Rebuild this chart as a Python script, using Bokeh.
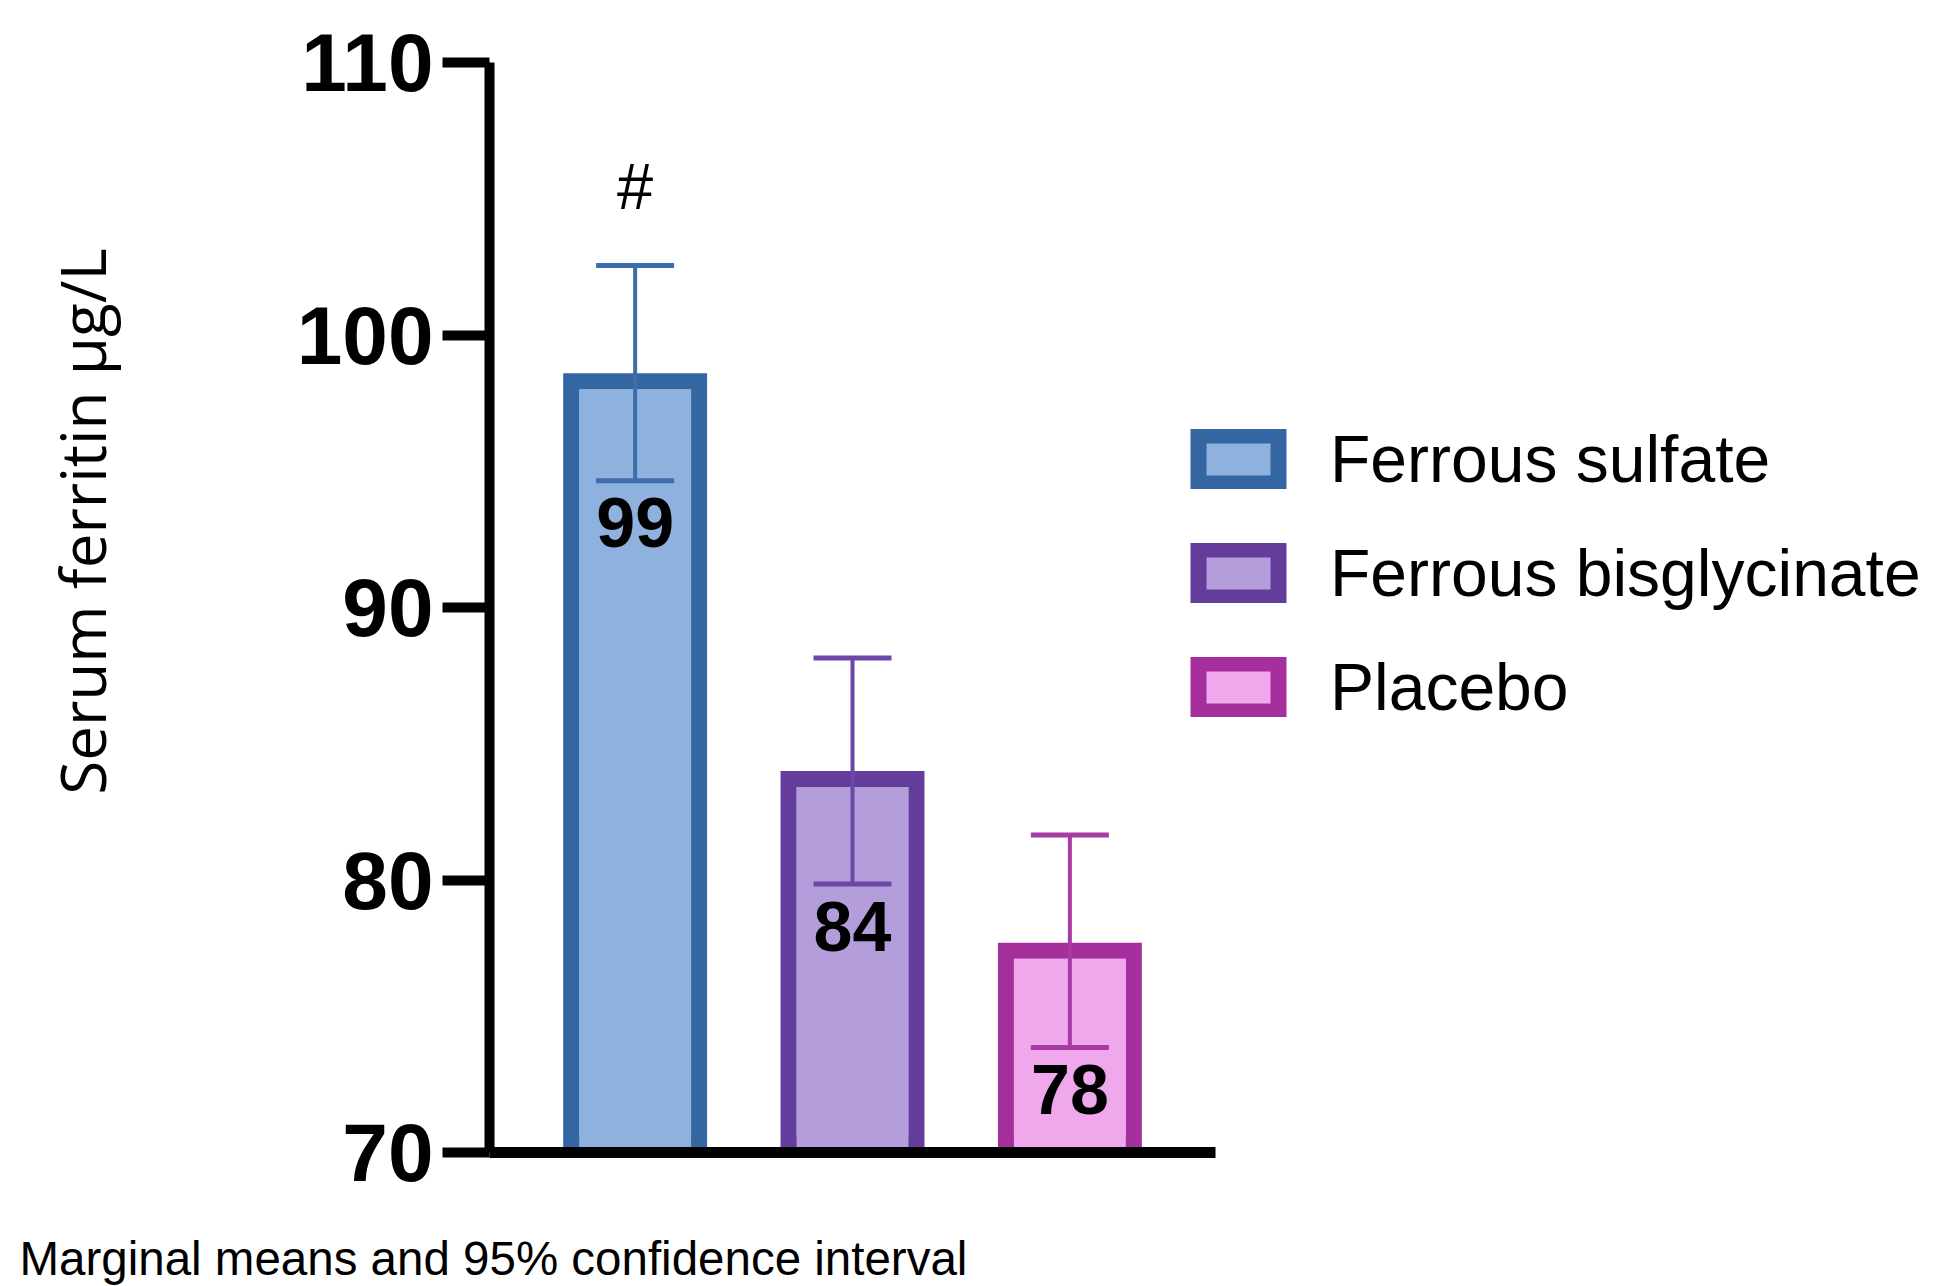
import math
from bokeh.plotting import figure
from bokeh.models import (Range1d, FixedTicker, Legend, LegendItem, ColumnDataSource,
                          Whisker, TeeHead, Label)
from bokeh.core.properties import value
from bokeh.embed import file_html
from bokeh.resources import INLINE

# ---------------- data ----------------
groups = ["Ferrous sulfate", "Ferrous bisglycinate", "Placebo"]
positions = [1, 2, 3]
means = [98.6, 84.0, 77.7]
ci_low = [94.65, 79.85, 73.85]
ci_high = [102.55, 88.15, 81.65]
value_labels = ["99", "84", "78"]
sig_marks = ["#", "", ""]
y_ticks = [70, 80, 90, 100, 110]
y_label = "Serum ferritin µg/L"
footnote = "Marginal means and 95% confidence interval"

fill_colors = ["#8FB1DD", "#B39EDB", "#EFA8EC"]
line_colors = ["#3467A1", "#643D9C", "#A5309D"]
err_colors = ["#3E6DAB", "#6C47A6", "#A83AA3"]

# ---------------- layout (pixels on the canvas) ----------------
W, H = 1935, 1286
AX_X, AX_TOP, AX_BOT = 489, 62, 1152      # y axis position, 110 and 70 levels
x0, x_axis_end = 0.33, 3.67               # category axis extent
y0, y1 = y_ticks[0], y_ticks[-1]
px_x = 217.37                              # pixels per category step
px_y = (AX_BOT - AX_TOP) / (y1 - y0)
xs = x0 - AX_X / px_x
xe = xs + W / px_x
ye = y1 + AX_TOP / px_y
ys = y0 - (H - AX_BOT) / px_y

def sx(px):   # canvas pixel -> data x
    return xs + px / px_x

def sy(py):   # canvas pixel -> data y
    return ye - py / px_y

stroke = 16
half_w = 0.331

p = figure(width=W, height=H, x_range=Range1d(xs, xe), y_range=Range1d(ys, ye),
           output_backend="svg", toolbar_location=None,
           min_border_left=0, min_border_right=0, min_border_top=0, min_border_bottom=0)
p.outline_line_color = None
p.xgrid.visible = False
p.ygrid.visible = False
p.background_fill_color = "white"
p.border_fill_color = "white"

# bars: stroked body (border inside the outline), bottom edge covered by inner fill
hx, hy = (stroke / 2) / px_x, (stroke / 2) / px_y
src = ColumnDataSource(dict(
    left=[c - half_w + hx for c in positions],
    right=[c + half_w - hx for c in positions],
    top=[m - hy for m in means],
    bottom=[y0 + hy for _ in means],
    fill=fill_colors, line=line_colors,
))
bars = p.quad(left="left", right="right", top="top", bottom="bottom", source=src,
              fill_color="fill", line_color="line", line_width=stroke,
              line_join="miter")
inner = ColumnDataSource(dict(
    left=[c - half_w + 2 * hx for c in positions],
    right=[c + half_w - 2 * hx for c in positions],
    top=[m - 2 * hy for m in means],
    bottom=[y0 for _ in means],
    fill=fill_colors,
))
p.quad(left="left", right="right", top="top", bottom="bottom", source=inner,
       fill_color="fill", line_color=None)

# error bars
for c, lo, hi, col in zip(positions, ci_low, ci_high, err_colors):
    es = ColumnDataSource(dict(x=[c], lower=[lo], upper=[hi]))
    w = Whisker(base="x", lower="lower", upper="upper", source=es,
                line_color=col, line_width=4, level="annotation",
                upper_head=TeeHead(size=78, line_color=col, line_width=5),
                lower_head=TeeHead(size=78, line_color=col, line_width=5))
    p.add_layout(w)

# value labels inside bars
p.text(x=positions, y=ci_low, text=value_labels, text_align="center",
       text_baseline="middle", y_offset=42,
       text_font=value("Liberation Sans"), text_font_style="bold",
       text_font_size="70px", text_color="black")

# significance mark
sig_x = [c for c, m in zip(positions, sig_marks) if m]
sig_y = [h for h, m in zip(ci_high, sig_marks) if m]
sig_t = [m for m in sig_marks if m]
p.text(x=sig_x, y=sig_y, text=sig_t, text_align="center",
       text_baseline="middle", y_offset=-79,
       text_font=value("Liberation Sans"), text_font_size="65px",
       text_color="black")

# axes (fixed inside the frame)
ya = p.yaxis[0]
ya.fixed_location = x0
ya.bounds = (y0, y1)
ya.ticker = FixedTicker(ticks=y_ticks)
ya.axis_line_width = 10
ya.axis_line_color = "black"
ya.major_tick_line_width = 10
ya.major_tick_out = 47
ya.major_tick_in = 0
ya.minor_tick_line_color = None
ya.major_label_text_font = "Liberation Sans"
ya.major_label_text_font_style = "bold"
ya.major_label_text_font_size = "82px"
ya.major_label_standoff = 9
ya.major_label_text_color = "black"

xa = p.xaxis[0]
xa.fixed_location = y0
xa.bounds = (x0, x_axis_end)
xa.ticker = FixedTicker(ticks=positions)
xa.axis_line_width = 11
xa.axis_line_color = "black"
xa.major_tick_line_width = 10
xa.major_tick_out = 5
xa.major_tick_in = 0
xa.minor_tick_line_color = None
xa.major_label_text_color = None

# y axis title
p.add_layout(Label(x=sx(81), y=sy(521), text=y_label, angle=math.pi / 2,
                   text_align="center", text_baseline="middle",
                   text_font="Open Sans", text_font_size="62px", text_color="black"))

# footnote
p.add_layout(Label(x=sx(19), y=sy(1258), text=footnote,
                   text_align="left", text_baseline="alphabetic",
                   text_font="Liberation Sans", text_font_size="47.5px",
                   text_color="black"))

# legend
items = [LegendItem(label=g, renderers=[bars], index=i) for i, g in enumerate(groups)]
legend = Legend(items=items, location=(1188, H - 725), glyph_width=100, glyph_height=60,
                label_text_font="Liberation Sans", label_text_font_size="66px",
                label_text_color="black",
                label_standoff=42, label_height=76, spacing=38, padding=0, margin=0,
                border_line_color=None, background_fill_alpha=0)
p.add_layout(legend)

open("out.html", "w").write(file_html(p, INLINE))
